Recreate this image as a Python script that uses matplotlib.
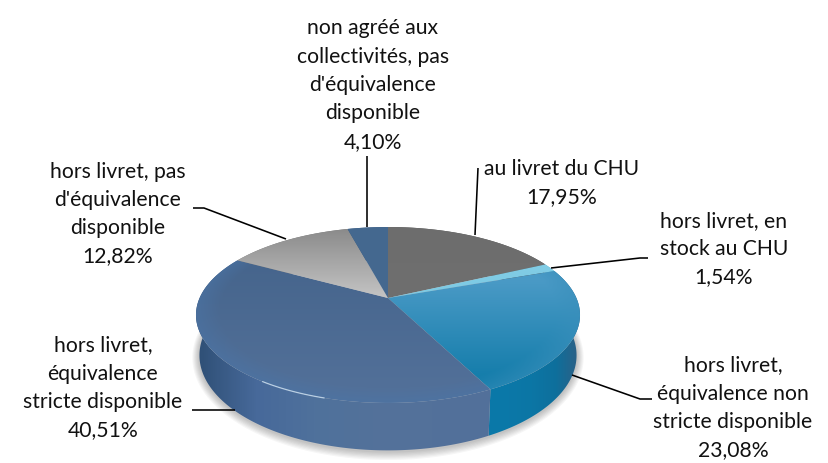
import numpy as np
import matplotlib
matplotlib.use("Agg")
import matplotlib.pyplot as plt
from matplotlib.colors import LinearSegmentedColormap, to_rgb
from matplotlib.patches import Polygon

categories = ["au livret du CHU", "hors livret, en\nstock au CHU",
              "hors livret,\néquivalence non\nstricte disponible",
              "hors livret,\néquivalence\nstricte disponible",
              "hors livret, pas\nd'équivalence\ndisponible",
              "non agréé aux\ncollectivités, pas\nd'équivalence\ndisponible"]
values = [17.95, 1.54, 23.08, 40.51, 12.82, 4.10]
value_labels = ["17,95%", "1,54%", "23,08%", "40,51%", "12,82%", "4,10%"]

label_pos = [(562, 183), (724, 249), (733, 408), (103, 388), (118, 214), (373, 85)]
leaders = [[(478, 168), (475, 235)],
           [(648, 258), (640, 258), (551, 268)],
           [(652, 399), (640, 399), (572, 375)],
           [(192, 410), (235, 410)],
           [(193, 208), (204, 208), (286, 239)],
           [(367, 156), (367, 227)]]
top_grad = [["#6d6d6d", "#727272"], ["#86d0e8", "#6fc0dc"], ["#4a9ac6", "#0b78a6"],
            ["#44638a", "#53719a"], ["#8a8a8a", "#c2c2c2"], ["#44688f", "#46698f"]]
side_grad = [["#555555", "#555555"], ["#5aa8c0", "#5aa8c0"],
             ["#0a78a8", "#0b78a8", "#0c76a5", "#0e6f9c", "#2f5f84"],
             ["#2f5076", "#47699a", "#4f719c", "#53719a", "#53719a", "#52709a"],
             ["#777777", "#777777"], ["#3a5a80", "#3a5a80"]]

W, H = 829, 463
CX, CY, A, B, K = 388.0, 298.0, 84.7, 188.4, 0.193
CY2, A2, B2 = 337.0, 91.5, 185.0

plt.rcParams["font.family"] = ["Lato", "DejaVu Sans"]
fig = plt.figure(figsize=(W / 100, H / 100), dpi=100)
ax = fig.add_axes([0, 0, 1, 1])
wedges, _ = ax.pie(values, startangle=90, counterclock=False, radius=1)
angles = [(w.theta1, w.theta2) for w in wedges]
for w in wedges:
    w.remove()
ax.set_aspect("auto")


def project(th, cy=CY, a=A, b=B, r=1.0):
    u, v = r * np.cos(th), r * np.sin(th)
    w = 1 + K * v
    return np.column_stack((CX + b * u / w, cy - a * v / w))


X, Y = np.meshgrid(np.arange(W) + 0.5, np.arange(H) + 0.5)
q = (CY - Y) / A
v_ = q / (1 - K * q)
u_ = (X - CX) * (1 + K * v_) / B
RAD = np.hypot(u_, v_)


def gradient(colors, t):
    cm = LinearSegmentedColormap.from_list("g", colors)
    return cm(np.clip(t, 0, 1))


def clipped(img, poly, z):
    im = ax.imshow(img, extent=(0, W, H, 0), aspect="auto", zorder=z, interpolation="bilinear")
    patch = Polygon(poly, closed=True, transform=ax.transData, fc="none", ec="none")
    ax.add_patch(patch)
    im.set_clip_path(patch)


# soft shadow under the pie
full = np.linspace(0, 2 * np.pi, 400)
for i, grow in enumerate(np.linspace(7, 1, 7)):
    ax.add_patch(Polygon(project(full, CY2 + 1, A2 + grow, B2 + grow), closed=True,
                         fc="black", ec="none", alpha=0.035, zorder=1))

ty = (Y - 228) / (400 - 228)
for i, (t1, t2) in enumerate(angles):
    th = np.radians(np.linspace(t1, t2, max(int(t2 - t1) * 2, 6)))
    rim_top = project(th)
    rim_bot = project(th, CY2, A2, B2)
    side_t = (X - 198) / (578 - 198)
    if i == 2:
        side_t = (X - 485) / (580 - 485)
    elif i == 3:
        side_t = (X - 198) / (490 - 198)
    clipped(gradient(side_grad[i], side_t), np.vstack((rim_top, rim_bot[::-1])), 2)

for i, (t1, t2) in enumerate(angles):
    th = np.radians(np.linspace(t1, t2, max(int(t2 - t1) * 2, 6)))
    poly = np.vstack(([[CX, CY]], project(th)))
    if i == 4:
        t = (Y - 228) / (295 - 228)
    elif i == 2:
        t = (Y - 280) / (395 - 280)
    elif i == 3:
        t = (Y - 240) / (400 - 240)
    else:
        t = ty
    img = gradient(top_grad[i], t)
    if i in (2, 3):
        # bevel toward the outer edge of the top face
        rim = np.clip((RAD - 0.88) / 0.12, 0, 1)[..., None]
        tint = np.array(to_rgb("#4a74a6" if i == 3 else "#3a8fbb"))
        img[..., :3] = img[..., :3] * (1 - 0.55 * rim) + tint * 0.55 * rim
    clipped(img, poly, 3)

# thin highlight on the front rim of the largest slice
hl = np.radians(np.linspace(236, 254, 30))
ax.plot(*project(hl).T, color="#cfe2f2", lw=0.9, alpha=0.8, zorder=4, solid_capstyle="round")

for pts in leaders:
    ax.plot(*np.array(pts).T, color="black", lw=1.15, zorder=5, solid_capstyle="butt")

for cat, val, (x, y) in zip(categories, value_labels, label_pos):
    ax.text(x, y, f"{cat}\n{val}", ha="center", va="center", fontsize=15.2,
            linespacing=1.52, color="#111111", zorder=6)

ax.set_xlim(0, W)
ax.set_ylim(H, 0)
ax.axis("off")
fig.savefig("out.png", dpi=100, facecolor="white")
